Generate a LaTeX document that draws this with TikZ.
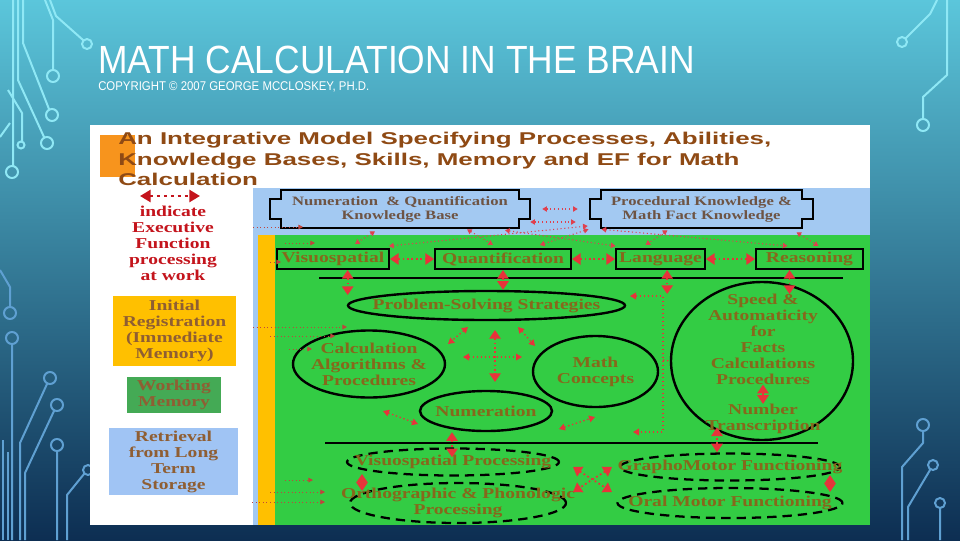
\documentclass[tikz,border=0pt]{standalone}
\usepackage{fontspec}
\setmainfont{Liberation Serif}
\newfontfamily\dgfont[FakeStretch=1.3]{Liberation Serif}
\newfontfamily\hdfont[FakeStretch=1.52]{Liberation Sans}
\newfontfamily\slidefont[FakeStretch=0.9]{Liberation Sans}
\usetikzlibrary{positioning,arrows.meta,shapes.geometric}
\definecolor{skytop}{HTML}{5BC6DB}
\definecolor{skymid}{HTML}{2A86B6}
\definecolor{skybot}{HTML}{0D2E52}
\definecolor{tracetop}{HTML}{8FE8F5}
\definecolor{tracebot}{HTML}{5FA0D2}
\definecolor{sqorange}{HTML}{F7941D}
\definecolor{hdbrown}{HTML}{8F4A14}
\definecolor{panelblue}{HTML}{A3C9F2}
\definecolor{fieldgreen}{HTML}{33CC44}
\definecolor{barorange}{HTML}{FFC000}
\definecolor{wmgreen}{HTML}{44AA55}
\definecolor{ltblue}{HTML}{A0C4F4}
\definecolor{txtbrown}{HTML}{86681C}
\definecolor{sidebrown}{HTML}{8F5E33}
\definecolor{kbbrown}{HTML}{6E5444}
\definecolor{legendred}{HTML}{C4141C}
\definecolor{efred}{HTML}{E8333A}
\definecolor{webred}{HTML}{E0404E}
\definecolor{feedred}{HTML}{C0443C}

\begin{document}
\begin{tikzpicture}[
  x=0.75pt,y=-0.75pt,
  dglabel/.style={font=\dgfont\bfseries\fontsize{11.3}{12}\selectfont,text=txtbrown,align=center,inner sep=0pt},
  rowbox/.style={dglabel,draw=black,line width=1.5pt,minimum height=15pt},
  oval/.style={dglabel,ellipse,draw=black,line width=1.8pt,inner sep=-40pt},
  dashoval/.style={oval,line width=1.7pt,dash pattern=on 7pt off 4.5pt},
  kbplate/.style={dglabel,font=\dgfont\bfseries\fontsize{9.6}{10.5}\selectfont,text=kbbrown,minimum height=28.5pt},
  plateline/.style={draw=black,line width=1.8pt},
  sidebox/.style={dglabel,text=sidebrown},
  efbig/.style={draw=efred,line width=1.3pt,dotted,{Triangle[width=8.5pt,length=6.5pt]}-{Triangle[width=8.5pt,length=6.5pt]}},
  efsmall/.style={draw=efred,line width=1pt,dotted,{Triangle[width=5pt,length=4.5pt]}-{Triangle[width=5pt,length=4.5pt]}},
  efweb/.style={draw=webred,line width=0.8pt,dotted,{Triangle[width=4pt,length=3.5pt]}-{Triangle[width=4pt,length=3.5pt]}},
  feed/.style={draw=feedred,line width=0.7pt,dotted,-{Triangle[width=3.5pt,length=3.5pt]}},
  legarrow/.style={draw=legendred,line width=2.2pt,dash pattern=on 2.2pt off 3pt,{Triangle[width=9pt,length=8pt]}-{Triangle[width=9pt,length=8pt]}},
  trace/.style={line width=1.5pt}
]
\useasboundingbox (0,0) rectangle (960,540);
\shade[top color=skytop,middle color=skymid,bottom color=skybot] (0,0) rectangle (960,540);

% circuit traces at the edges
\draw[trace,tracetop] (50,0) -- (56,16) -- (83,40) (87,44) circle[radius=5];
\draw[trace,tracetop] (45,0) -- (53,20) -- (53,70) (53,76) circle[radius=6];
\draw[trace,tracetop] (23,0) -- (23,43) -- (49,109) (52,115) circle[radius=6];
\draw[trace,tracetop] (18,0) -- (18,80) -- (44,137) (47,143) circle[radius=6];
\draw[trace,tracetop] (13,0) -- (13,166) (12,172) circle[radius=6];
\draw[trace,tracetop] (8,90) -- (22,113) -- (22,141) (21,145) circle[radius=3.5];
\draw[trace,tracetop] (0,137) -- (10,123);
\draw[trace,tracebot] (0,270) -- (10,287) -- (10,307) (10,313) circle[radius=6];
\draw[trace,tracebot] (12,540) -- (12,344) (12,338) circle[radius=6];
\draw[trace,tracebot] (20,540) -- (20,443) -- (47,384) (50,378) circle[radius=6];
\draw[trace,tracebot] (25,540) -- (25,473) -- (54,411) (57,405) circle[radius=6];
\draw[trace,tracebot] (57,540) -- (57,451) (57,445) circle[radius=6];
\draw[trace,tracebot] (67,540) -- (67,495) -- (84,474) (88,470) circle[radius=5];
\draw[trace,tracebot] (3,440) -- (3,540) (8,452) -- (8,540);
\draw[trace,tracetop] (937,0) -- (930,14) -- (906,38) (902,42) circle[radius=5];
\draw[trace,tracetop] (947,0) -- (947,75) -- (923,97) -- (923,119) (923,125) circle[radius=6];
\draw[trace,tracebot] (923,431) -- (923,443) -- (902,467) -- (902,540) (923,425) circle[radius=6];
\draw[trace,tracebot] (908,540) -- (908,507) -- (930,470) (933,465) circle[radius=5];
\draw[trace,tracebot] (940,540) -- (940,508) (940,503) circle[radius=5];

% slide title
\node[anchor=base west,inner sep=0pt,text=white,font=\slidefont\fontsize{29.5}{30}\selectfont] (ttl) at (98,73) {MATH CALCULATION IN THE BRAIN};
\node[anchor=base west,inner sep=0pt,text=white,font=\slidefont\fontsize{9.5}{10}\selectfont] (cpy) at (98,90) {COPYRIGHT © 2007 GEORGE MCCLOSKEY, PH.D.};

% the model
\fill[white] (90,125) rectangle (870,525);
\fill[sqorange] (100,135) rectangle (135,177);
\fill[panelblue] (253,188) rectangle (870,525);
\fill[fieldgreen] (275,235) rectangle (870,525);
\fill[barorange] (258,235) rectangle (275,525);
\node[anchor=north west,align=left,inner sep=0pt,text=hdbrown,font=\hdfont\bfseries\fontsize{12.8}{15.4}\selectfont] (hdr) at (118,132)
  {An Integrative Model Specifying Processes, Abilities,\\Knowledge Bases, Skills, Memory and EF for Math\\Calculation};

% legend and memory boxes
\coordinate (lgL) at (140,196);
\coordinate (lgR) at (200,196);
\draw[legarrow] (lgL) -- (lgR);
\node[dglabel,text=legendred] (leg) at (173,243) {indicate\\Executive\\Function\\processing\\at work};
\node[sidebox,fill=barorange,minimum width=92.25pt,minimum height=52.5pt] (ireg) at (174.5,331) {Initial\\Registration\\(Immediate\\Memory)};
\node[sidebox,fill=wmgreen,minimum width=70.5pt,minimum height=27pt] (wmem) at (174,395) {Working\\Memory};
\node[sidebox,fill=ltblue,minimum width=96.75pt,minimum height=50.25pt] (ltret) at (173.5,461.5) {Retrieval\\from Long\\Term\\Storage};

% knowledge bases
\node[kbplate,minimum width=195pt] (nb) at (400,209) {Numeration \ \& Quantification\\Knowledge Base};
\node[kbplate,minimum width=167.25pt] (pk) at (701.5,209) {Procedural Knowledge \&\\Math Fact Knowledge};
\foreach \k in {nb,pk}
  \draw[plateline] (\k.north west) ++(11,0) -- ([xshift=-8.25pt]\k.north east) -- ++(0,9) -- ++(11,0)
    -- ([yshift=6.75pt]\k.south east) -- ++(-11,0) -- ++(0,9) -- ([xshift=8.25pt]\k.south west)
    -- ++(0,-9) -- ++(-11,0) -- ([yshift=-6.75pt]\k.north west) -- ++(11,0) -- cycle;

% abilities
\node[rowbox,minimum width=84pt] (vis) at (333,259) {Visuospatial};
\node[rowbox,minimum width=102pt] (quant) at (503,259) {Quantification};
\node[rowbox,minimum width=66.75pt] (lang) at (660.5,259) {Language};
\node[rowbox,minimum width=80.25pt] (reas) at (809.5,259) {Reasoning};
\coordinate (ruleA) at (319,278);
\coordinate (ruleB) at (843,278);
\draw[line width=1.3pt] (ruleA) -- (ruleB);

% skills
\node[oval,minimum width=207.75pt,minimum height=21.75pt] (pss) at (486.5,305.5) {Problem-Solving Strategies};
\node[oval,minimum width=114pt,minimum height=50.25pt] (calc) at (369,364) {Calculation\\Algorithms \&\\Procedures};
\node[oval,minimum width=93.75pt,minimum height=53.25pt] (mcon) at (595.5,371.5) {Math\\Concepts};
\node[oval,minimum width=99pt,minimum height=30pt] (numer) at (486,411) {Numeration};
\node[oval,minimum width=136.5pt,minimum height=118.5pt] (speed) at (762,361) {};
\node[dglabel] (speedtx) at (763,339) {Speed \&\\Automaticity\\for\\Facts\\Calculations\\Procedures};
\node[dglabel] (numtr) at (763,419) {Number\\Transcription};
\coordinate (ruleC) at (325,443);
\coordinate (ruleD) at (818,443);
\draw[line width=1.3pt] (ruleC) -- (ruleD);

% output processes
\node[dashoval,minimum width=159pt,minimum height=20.25pt] (vproc) at (453,462) {Visuospatial Processing};
\node[dashoval,minimum width=162pt,minimum height=30pt] (ortho) at (458,503) {Orthographic \& Phonologic\\Processing};
\node[dashoval,minimum width=165pt,minimum height=20.25pt] (grapho) at (730,467) {GraphoMotor Functioning};
\node[dashoval,minimum width=168.75pt,minimum height=22.5pt] (oral) at (730,503) {Oral Motor Functioning};

% executive function links
\draw[efweb] (nb.east) -- (pk.west) [shorten <=9pt,shorten >=9pt];
\draw[efweb] ([shift={(-25,3)}]nb.south) -- ([shift={(22,-4)}]vis.north);
\draw[efweb] ([shift={(67,1)}]nb.south) -- ([shift={(-10,-3)}]quant.north);
\draw[efweb] ([shift={(105,2)}]nb.south) -- ([shift={(-45,-2)}]lang.north);
\draw[efweb] ([shift={(-113,1)}]pk.south) -- ([shift={(37,-3)}]quant.north);
\draw[efweb] ([shift={(56,-2)}]vis.north) -- ([shift={(-2,17)}]pk.west);
\draw[efweb] ([shift={(0,13)}]nb.east) -- ([shift={(-14,13)}]pk.west);
\draw[efweb] ([shift={(-34,2)}]pk.south) -- ([shift={(-15,-3)}]lang.north);
\draw[efweb] ([shift={(-100,1)}]pk.south) -- ([shift={(-22,-2)}]reas.north);
\draw[efweb] ([shift={(95,4)}]pk.south) -- ([shift={(9,-2)}]reas.north);

\draw[efbig] (vis) -- (quant);
\draw[efbig] (quant) -- (lang);
\draw[efbig] (lang) -- (reas);
\draw[efbig] ([xshift=11pt]vis.south) -- ++(0,25);
\draw[efbig] (quant.south) -- (quant.south |- pss.north);
\draw[efbig] ([xshift=5pt]lang.south) -- ++(0,24);
\draw[efbig] ([xshift=-15pt]reas.south) -- ++(0,24);

\coordinate (crU) at (495,330);
\coordinate (crD) at (495,382);
\coordinate (crL) at (463,357);
\coordinate (crR) at (522,357);
\coordinate (dgA) at (468,327);
\coordinate (dgB) at (448,344);
\coordinate (dgC) at (518,327);
\coordinate (dgD) at (535,346);
\coordinate (nmA) at (383,411);
\coordinate (nmB) at (418,424);
\coordinate (nmC) at (559,429);
\coordinate (nmD) at (595,417);
\draw[efbig] (crU) -- (crD);
\draw[efsmall] (crL) -- (crR);
\draw[efsmall] (dgA) -- (dgB);
\draw[efsmall] (dgC) -- (dgD);
\draw[efsmall] (nmA) -- (nmB);
\draw[efsmall] (nmC) -- (nmD);

\coordinate (vtA) at (630,296);
\coordinate (vtB) at (663,296);
\coordinate (vtC) at (663,432);
\coordinate (vtD) at (633,432);
\coordinate (vtM) at (663,360);
\draw[efsmall] (vtA) -- (vtB) -- (vtC) -- (vtD);
\draw[efsmall,-] (vtM) -- (speed.west);

\draw[efbig] (speedtx) -- (numtr);
\draw[efbig] ([xshift=-25.5pt]numer.south) -- ++(0,25);
\draw[efbig] ([xshift=-9.75pt]grapho.north) -- ++(0,-25);

\coordinate (dmA) at (362,474);
\coordinate (dmB) at (362,491);
\coordinate (dmC) at (830,475);
\coordinate (dmD) at (830,492);
\coordinate (xsA) at (573,467);
\coordinate (xsB) at (612,492);
\coordinate (xsC) at (612,467);
\coordinate (xsD) at (573,492);
\draw[efbig] (dmA) -- (dmB);
\draw[efbig] (dmC) -- (dmD);
\draw[efbig] (xsA) -- (xsB);
\draw[efbig] (xsC) -- (xsD);

% feeders from the memory column
\foreach \n/\y/\xa/\xb in {1/227/253/303,2/243/285/315,3/262/270/281,4/327/253/347,5/336/270/335,6/349/289/312,7/480/285/313,8/492/270/325,9/502/252/325}{
  \coordinate (fd\n a) at (\xa,\y);
  \coordinate (fd\n b) at (\xb,\y);
  \draw[feed] (fd\n a) -- (fd\n b);
}
\end{tikzpicture}
\end{document}
